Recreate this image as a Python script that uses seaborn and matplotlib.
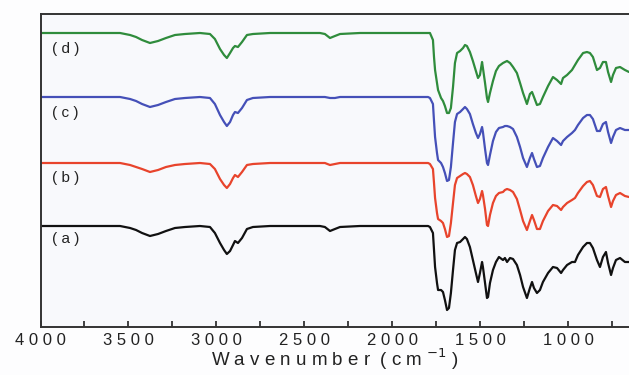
import matplotlib
matplotlib.use("Agg")
import matplotlib.pyplot as plt
import seaborn as sns
import pandas as pd
from matplotlib.ticker import MultipleLocator

# ---- data ----
# wavenumbers of the read points: high-wavenumber part and fingerprint part
wn_high = [4000, 3776, 3548, 3491, 3457, 3423, 3378, 3332, 3287, 3236,
           3179, 3094, 3037, 3009, 2980, 2957, 2941, 2923, 2906, 2895,
           2878, 2855, 2827, 2793, 2696, 2526, 2412, 2384, 2355, 2327,
           2298, 2185, 1958]
wn_low = [1798, 1787, 1770, 1764, 1758, 1747, 1741, 1724, 1713, 1702,
          1690, 1679, 1668, 1656, 1645, 1633, 1616, 1599, 1588, 1577,
          1560, 1543, 1526, 1514, 1503, 1491, 1486, 1474, 1463, 1457,
          1446, 1429, 1412, 1395, 1372, 1361, 1349, 1332, 1315, 1293,
          1275, 1258, 1236, 1219, 1207, 1196, 1179, 1162, 1145, 1116,
          1088, 1065, 1042, 1031, 1008, 980, 963, 946, 917, 895,
          878, 861, 838, 821, 804, 787, 775, 758, 747, 730,
          707, 679, 656]

# absorption depth below each trace's baseline (arbitrary units)
a_high = [0, 0, 0, 2, 4, 7, 10, 8, 5, 2, 1, 0, 1, 7, 17, 24, 28, 25, 19, 15,
          17, 12, 3, 1, 0, 0, 0, 1, 5, 3, 1, 0, 0]
a_low = [0, 1, 7, 24, 41, 57, 64, 64, 66, 74,
         84, 82, 67, 44, 24, 17, 16, 13, 11, 13,
         21, 34, 47, 56, 47, 36, 41, 57, 72, 71,
         57, 44, 36, 31, 34, 32, 36, 32, 33, 39,
         49, 61, 72, 62, 56, 62, 67, 64, 56, 47,
         41, 42, 47, 44, 39, 36, 36, 29, 21, 17,
         17, 22, 34, 41, 31, 26, 37, 49, 42, 34,
         32, 36, 36]
b_high = [0, 0, 0, 2, 4, 6, 9, 7, 4, 2, 1, 0, 1, 6, 16, 22, 25, 21, 15, 12,
          14, 9, 2, 1, 0, 0, 0, 0, 2, 1, 0, 0, 0]
b_low = [0, 1, 6, 20, 35, 50, 56, 58, 60, 66,
         74, 73, 60, 40, 22, 15, 13, 11, 10, 11,
         14, 22, 33, 40, 36, 28, 32, 46, 62, 63,
         52, 40, 33, 30, 29, 27, 26, 27, 29, 36,
         47, 58, 67, 58, 52, 57, 66, 66, 58, 48,
         42, 43, 47, 44, 40, 37, 35, 30, 23, 19,
         18, 22, 33, 34, 26, 24, 33, 44, 38, 32,
         30, 33, 34]
c_high = [0, 0, 0, 2, 4, 7, 10, 8, 5, 2, 1, 0, 1, 7, 18, 25, 29, 25, 18, 15,
          16, 11, 3, 1, 0, 0, 0, 0, 1, 1, 0, 0, 0]
c_low = [0, 1, 7, 24, 40, 56, 63, 66, 70, 76,
         84, 83, 70, 46, 25, 17, 15, 12, 10, 12,
         17, 27, 36, 41, 37, 30, 35, 52, 66, 68,
         58, 44, 35, 31, 30, 29, 29, 30, 32, 40,
         50, 61, 70, 61, 56, 62, 70, 69, 61, 50,
         41, 44, 48, 44, 40, 36, 33, 28, 21, 18,
         18, 22, 34, 34, 27, 25, 35, 46, 40, 33,
         31, 33, 33]
d_high = [0, 0, 0, 2, 4, 7, 10, 8, 5, 2, 1, 0, 1, 6, 16, 22, 25, 20, 15, 13,
          14, 9, 2, 1, 0, 0, 0, 1, 5, 3, 1, 0, 0]
d_low = [0, 0, 7, 24, 37, 50, 57, 65, 68, 73,
         80, 80, 75, 54, 30, 20, 18, 15, 12, 13,
         19, 28, 38, 45, 42, 29, 35, 50, 65, 69,
         60, 48, 38, 33, 30, 29, 28, 30, 34, 40,
         50, 60, 71, 61, 59, 64, 72, 71, 64, 53,
         44, 47, 51, 45, 42, 37, 32, 27, 20, 19,
         20, 24, 37, 35, 29, 29, 39, 49, 42, 35,
         34, 37, 39]

samples = ["(a)", "(b)", "(c)", "(d)"]
labels = ["( a )", "( b )", "( c )", "( d )"]
offsets = [101, 164, 230, 294]
colors = ["#111111", "#e8442c", "#4550b8", "#2f8c3c"]
xticks = [4000, 3500, 3000, 2500, 2000, 1500, 1000]
xtick_labels = ["4 0 0 0", "3 5 0 0", "3 0 0 0", "2 5 0 0", "2 0 0 0", "1 5 0 0", "1 0 0 0"]

wavenumber = wn_high + wn_low
depths = [a_high + a_low, b_high + b_low, c_high + c_low, d_high + d_low]

rows = []
for s, off, dep in zip(samples, offsets, depths):
    for w, d in zip(wavenumber, dep):
        rows.append({"wn": w, "T": off - d, "sample": s})
df = pd.DataFrame(rows)

sns.set_style("white")
plt.rcParams["font.family"] = ["Liberation Sans", "DejaVu Sans"]

fig = plt.figure(figsize=(6.29, 3.75), dpi=100)
fig.patch.set_facecolor("#fdfdfe")
ax = fig.add_axes([40.5 / 629, 48 / 375, 588.5 / 629, 313 / 375])
ax.set_facecolor("#f8f9fc")

sns.lineplot(data=df, x="wn", y="T", hue="sample", palette=dict(zip(samples, colors)),
             sort=False, estimator=None, linewidth=1.6, legend=False, ax=ax)
for line in ax.lines:
    line.set_solid_joinstyle("round")

ax.set_xlim(4000, 656)
ax.set_ylim(0, 313)
ax.set_yticks([])
ax.set_xticks(xticks)
ax.set_xticklabels(xtick_labels, fontsize=12)
ax.xaxis.set_minor_locator(MultipleLocator(250))
ax.tick_params(axis="x", which="both", direction="in", length=4, width=1.2,
               bottom=True, top=False, colors="#222222", pad=4)
for side in ["left", "bottom", "top"]:
    ax.spines[side].set_color("#333333")
    ax.spines[side].set_linewidth(1.4)
ax.spines["right"].set_visible(False)

label_y = [88, 149, 214, 278]
for lab, y in zip(labels, label_y):
    ax.text(3935, y, lab, fontsize=11, ha="left", va="center", color="#222222")

ax.set_xlabel("W a v e n u m b e r  ( c m $^{-1}$ )", fontsize=13.5, labelpad=-1, color="#222222")
ax.set_ylabel("")

fig.savefig("out.png", dpi=100, facecolor=fig.get_facecolor())
